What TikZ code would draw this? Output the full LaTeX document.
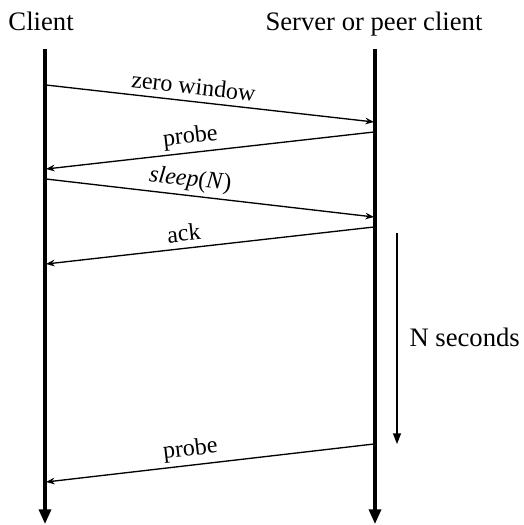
\documentclass[tikz,border=0pt]{standalone}
\usepackage{fontspec}
\setmainfont{Liberation Serif}
\usetikzlibrary{arrows.meta}

\tikzset{every picture/.style={line width=0.75pt}}
\tikzset{
  lifeline/.style={line width=2.4pt,-{Triangle[length=11pt,width=9pt]}},
  msg/.style={line width=1pt,-{Stealth[length=6.5pt,width=5pt]}},
  msglabel/.style={anchor=center,inner sep=0pt,yshift=11.5pt,font=\fontsize{18}{20}\selectfont},
  actor/.style={inner sep=0pt,font=\fontsize{20}{24}\selectfont},
}
\newcommand{\tilted}[2]{\rotatebox[origin=c]{#1}{#2}}

\begin{document}
\begin{tikzpicture}[x=0.75pt,y=0.75pt,yscale=-1,xscale=1]
\useasboundingbox (0,0) rectangle (524,525);

% Text Node
\node (client) [actor,anchor=base west] at (8,30) {Client};
% Text Node
\node (server) [actor,anchor=base west] at (265,30) {Server or peer client};

%Lifelines
\coordinate (ctop) at (45,49);
\coordinate (cbot) at (45,524);
\coordinate (stop) at (375,49);
\coordinate (sbot) at (375,524);
\draw [lifeline] (ctop) -- (cbot);
\draw [lifeline] (stop) -- (sbot);

%Message ends on the client side
\coordinate (c1) at (46,85);
\coordinate (c2) at (46,169);
\coordinate (c3) at (46,179);
\coordinate (c4) at (46,264);
\coordinate (c5) at (46,482);
%Message ends on the server side
\coordinate (s1) at (374,122);
\coordinate (s2) at (374,132);
\coordinate (s3) at (374,217);
\coordinate (s4) at (374,227);
\coordinate (s5) at (374,444);

%Messages
\draw [msg] (c1) -- node [msglabel,pos=0.45] {\tilted{-6.4}{zero window}} (s1);
\draw [msg] (s2) -- node [msglabel,pos=0.56] {\tilted{6.4}{probe}} (c2);
\draw [msg] (c3) -- node [msglabel,pos=0.44] {\tilted{-6.6}{\textit{sleep}(\textit{N})}} (s3);
\draw [msg] (s4) -- node [msglabel,pos=0.58] {\tilted{6.4}{ack}} (c4);
\draw [msg] (s5) -- node [msglabel,pos=0.56] {\tilted{6.6}{probe}} (c5);

%Waiting time
\coordinate (wtop) at (397,233);
\coordinate (wbot) at (397,444);
\draw [line width=1pt,-{Triangle[length=8pt,width=6pt]}] (wtop) -- (wbot);
% Text Node
\node (wait) [actor,anchor=west] at (409,337) {N seconds};

\end{tikzpicture}
\end{document}
